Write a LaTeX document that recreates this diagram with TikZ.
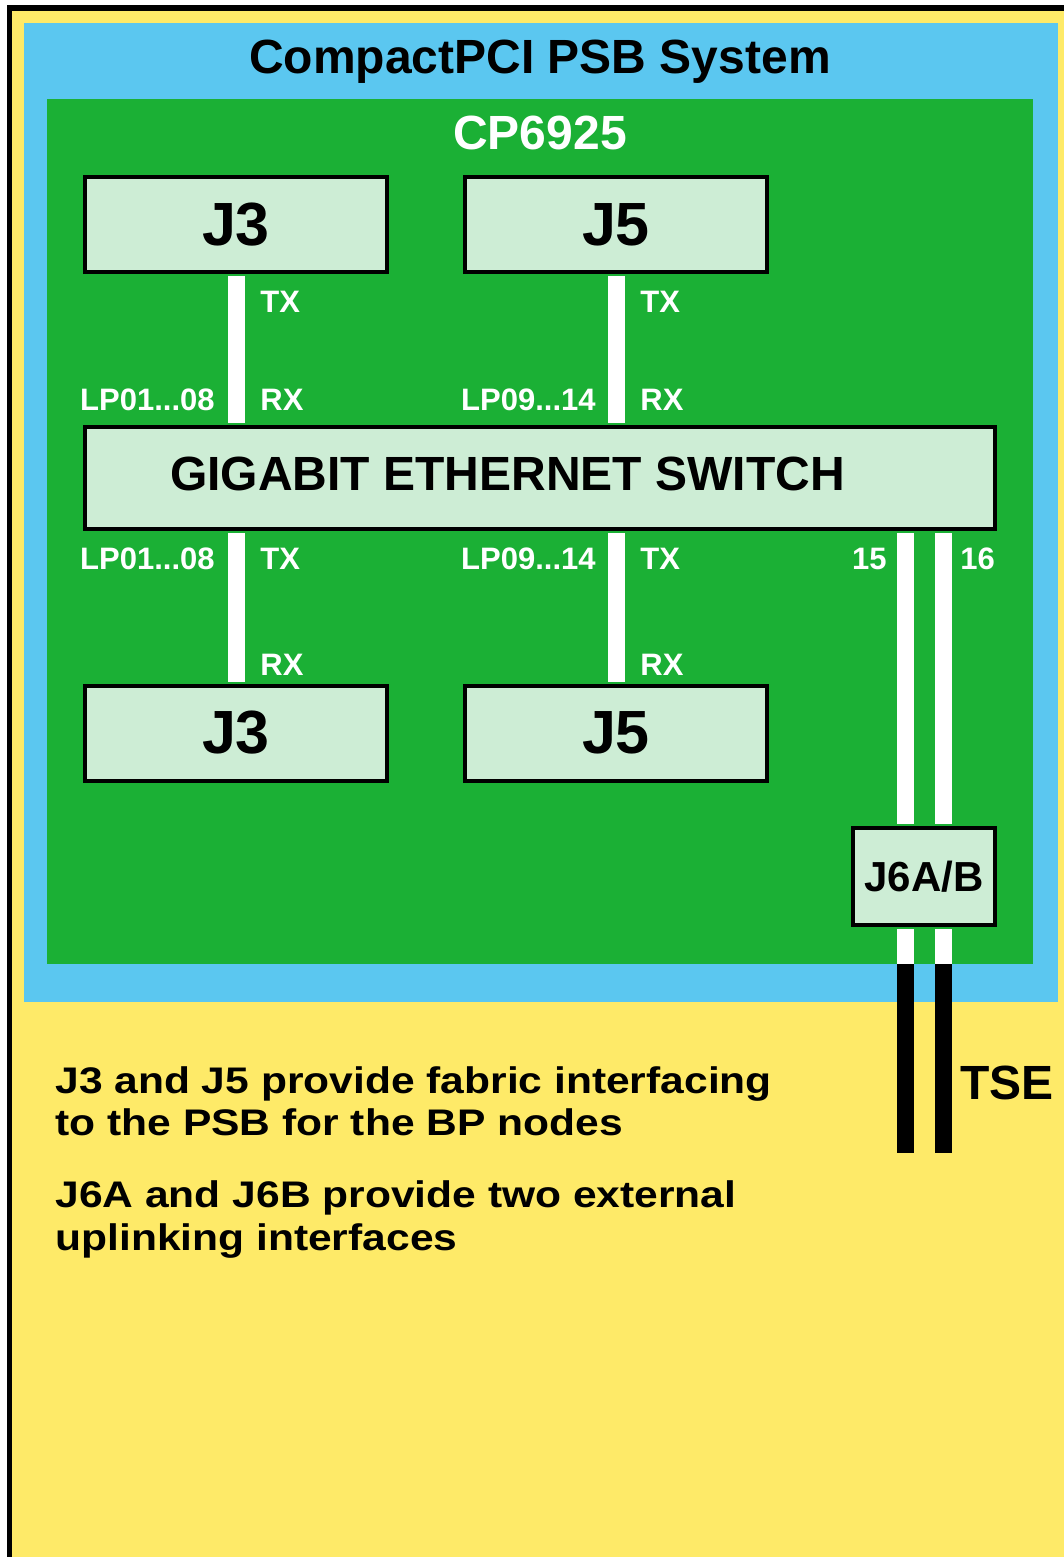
\documentclass[tikz,border=0pt]{standalone}
\usepackage{fontspec}
\setmainfont{Liberation Sans}
\newfontfamily\widefont[FakeStretch=1.15]{Liberation Sans}

\definecolor{sysblue}{RGB}{91,199,240}
\definecolor{boardgreen}{RGB}{27,176,53}
\definecolor{connfill}{RGB}{205,237,213}
\definecolor{pageyellow}{RGB}{254,234,104}

\begin{document}
\begin{tikzpicture}
[x=0.5pt,y=-0.5pt,
conn/.style ={rectangle, draw=black, line width=2pt, fill=connfill,
inner sep=0pt, font=\fontsize{30.5pt}{36pt}\selectfont\bfseries},
jbox/.style ={conn, minimum width=151pt, minimum height=47.5pt},
link/.style ={draw=white, line width=8.5pt, shorten <=1pt, shorten >=1pt},
uplink/.style ={draw=black, line width=8.5pt},
portlabel/.style ={text=white, inner sep=0pt,
font=\fontsize{15.5pt}{18pt}\selectfont\bfseries},
heading/.style ={inner sep=0pt, anchor=base,
font=\fontsize{24pt}{29pt}\selectfont\bfseries},
note/.style ={inner sep=0pt, anchor=base west,
font=\widefont\fontsize{18.5pt}{22pt}\selectfont\bfseries}]
\useasboundingbox (0,0) rectangle (1064,1557);
% page and frame
\fill[black] (7,5) rectangle (1064,1557);
\fill[pageyellow] (12,11) rectangle (1064,1557);
% system and board
\node[fill=sysblue, inner sep=0pt, minimum width=517pt, minimum height=489.5pt] (system) at (541,512.5) {};
\node[fill=boardgreen, inner sep=0pt, minimum width=493pt, minimum height=432.5pt] (board) at (540,531.5) {};
\node[heading] (systitle) at (540,74) {CompactPCI PSB System};
\node[heading, text=white] (boardtitle) at (540,150) {CP6925};
% connectors and switch
\node[jbox] (j3top) at (236,224.5) {J3};
\node[jbox] (j5top) at (616,224.5) {J5};
\node[conn, minimum width=455pt, minimum height=51pt] (switch) at (540,478) {};
\node[inner sep=0pt, font=\fontsize{24pt}{29pt}\selectfont\bfseries] (switchtext) at (507.5,474) {GIGABIT ETHERNET SWITCH};
\node[jbox] (j3bot) at (236,733) {J3};
\node[jbox] (j5bot) at (616,733) {J5};
\node[conn, minimum width=71pt, minimum height=48.5pt,
font=\fontsize{21pt}{25pt}\selectfont\bfseries] (j6) at (924,876.5) {J6A/B};
% links
\draw[link] (j3top.south) -- (j3top.south |- switch.north);
\draw[link] (j5top.south) -- (j5top.south |- switch.north);
\draw[link] (j3bot.north |- switch.south) -- (j3bot.north);
\draw[link] (j5bot.north |- switch.south) -- (j5bot.north);
\coordinate (in15) at ([xshift=-9.5pt]j6.north);
\coordinate (in16) at ([xshift=9.5pt]j6.north);
\coordinate (out15) at ([xshift=-9.5pt]j6.south);
\coordinate (out16) at ([xshift=9.5pt]j6.south);
\coordinate (tseend) at (924,1153);
\draw[link] (in15 |- switch.south) -- (in15);
\draw[link] (in16 |- switch.south) -- (in16);
\draw[link, shorten >=0pt] (out15) -- (out15 |- board.south);
\draw[link, shorten >=0pt] (out16) -- (out16 |- board.south);
\draw[uplink] (out15 |- board.south) -- (out15 |- tseend);
\draw[uplink] (out16 |- board.south) -- (out16 |- tseend);
% port labels
\node[portlabel, anchor=base west] (tx3top) at (260,312) {TX};
\node[portlabel, anchor=base west] (rx3top) at (260,410) {RX};
\node[portlabel, anchor=base east] (lp3top) at (215,410) {LP01...08};
\node[portlabel, anchor=base west] (tx5top) at (640,312) {TX};
\node[portlabel, anchor=base west] (rx5top) at (640,410) {RX};
\node[portlabel, anchor=base east] (lp5top) at (596,410) {LP09...14};
\node[portlabel, anchor=base east] (lp3bot) at (215,569) {LP01...08};
\node[portlabel, anchor=base west] (tx3bot) at (260,569) {TX};
\node[portlabel, anchor=base west] (rx3bot) at (260,675) {RX};
\node[portlabel, anchor=base east] (lp5bot) at (596,569) {LP09...14};
\node[portlabel, anchor=base west] (tx5bot) at (640,569) {TX};
\node[portlabel, anchor=base west] (rx5bot) at (640,675) {RX};
\node[portlabel, anchor=base east] (p15) at (887,569) {15};
\node[portlabel, anchor=base west] (p16) at (960,569) {16};
\node[inner sep=0pt, anchor=base west, font=\fontsize{24pt}{29pt}\selectfont\bfseries] (tse) at (960,1099) {TSE};
% notes
\node[note] (notea) at (55,1093) {J3 and J5 provide fabric interfacing};
\node[note] (noteb) at (55,1135) {to the PSB for the BP nodes};
\node[note] (notec) at (55,1207) {J6A and J6B provide two external};
\node[note] (noted) at (55,1250) {uplinking interfaces};
\end{tikzpicture}
\end{document}
